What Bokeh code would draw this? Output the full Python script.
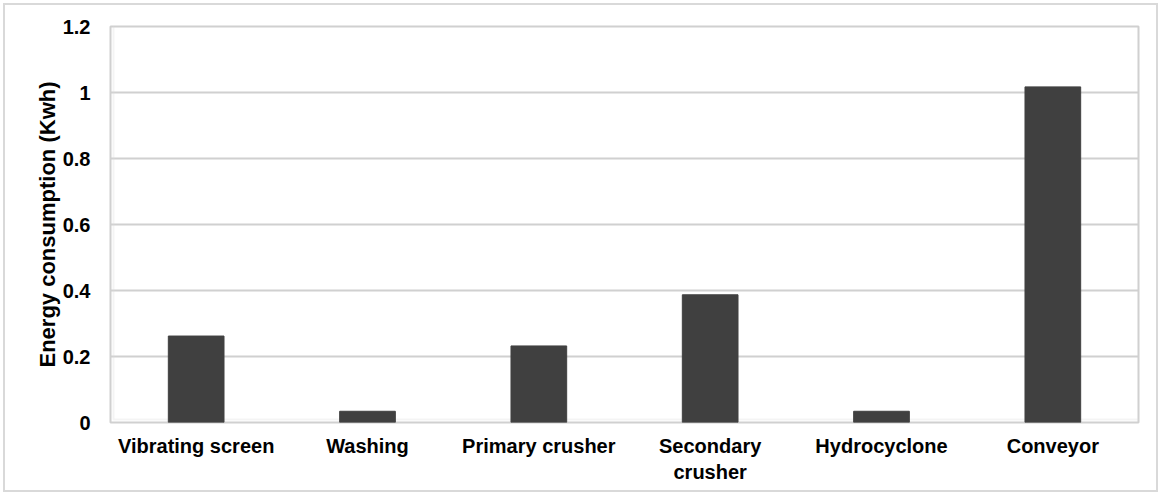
from bokeh.plotting import figure
from bokeh.models import ColumnDataSource, FixedTicker, CustomJSTickFormatter, Range1d, BoxAnnotation
from bokeh.embed import file_html
from bokeh.resources import INLINE

categories = ["Vibrating screen", "Washing", "Primary crusher", "Secondary\ncrusher", "Hydrocyclone", "Conveyor"]
energy = [0.262, 0.034, 0.232, 0.387, 0.034, 1.017]
y_ticks = [0, 0.2, 0.4, 0.6, 0.8, 1.0, 1.2]
y_tick_labels = ["0", "0.2", "0.4", "0.6", "0.8", "1", "1.2"]

FONT = "Liberation Sans"
GRID = "#d0d0d0"

source = ColumnDataSource(data=dict(cat=categories, val=energy))

p = figure(x_range=categories, width=1161, height=495, output_backend="svg",
           toolbar_location=None, tools="")
p.y_range = Range1d(0, 1.2)
p.min_border_left = 110
p.min_border_top = 26
p.min_border_right = 23
p.min_border_bottom = 73

p.vbar(x="cat", top="val", width=0.325, source=source,
       fill_color="#404040", line_color="#404040", line_width=1)

p.x_range.range_padding = 0
p.outline_line_color = GRID
p.outline_line_width = 2
p.background_fill_color = "white"
p.border_fill_color = None

p.xgrid.grid_line_color = None
p.ygrid.grid_line_color = GRID
p.ygrid.grid_line_width = 2

p.yaxis.ticker = FixedTicker(ticks=y_ticks)
p.yaxis.formatter = CustomJSTickFormatter(
    args=dict(tv=y_ticks, lv=y_tick_labels),
    code="""
    for (let i = 0; i < tv.length; i++) {
        if (Math.abs(tv[i] - tick) < 1e-9) return lv[i];
    }
    return tick.toString();
    """)

for ax in (p.xaxis, p.yaxis):
    ax.axis_line_color = None
    ax.major_tick_line_color = None
    ax.minor_tick_line_color = None
    ax.major_label_text_font = FONT
    ax.major_label_text_font_style = "bold"
    ax.major_label_text_font_size = "20px"
    ax.major_label_text_color = "black"

p.xaxis.major_label_standoff = 6
p.yaxis.major_label_standoff = 14

p.yaxis.axis_label = "Energy consumption (Kwh)"
p.yaxis.axis_label_text_font = FONT
p.yaxis.axis_label_text_font_style = "bold"
p.yaxis.axis_label_text_font_size = "22px"
p.yaxis.axis_label_text_color = "black"
p.yaxis.axis_label_standoff = 0

# outer chart border
p.add_layout(BoxAnnotation(left=3, right=1157, top=3, bottom=492,
                           left_units="screen", right_units="screen",
                           top_units="screen", bottom_units="screen",
                           fill_color=None, fill_alpha=0,
                           line_color="#d9d9d9", line_width=2, level="underlay"))
p.styles = {"outline": "2px solid #d9d9d9", "outline-offset": "-5px"}

open("out.html", "w").write(file_html(p, INLINE))
